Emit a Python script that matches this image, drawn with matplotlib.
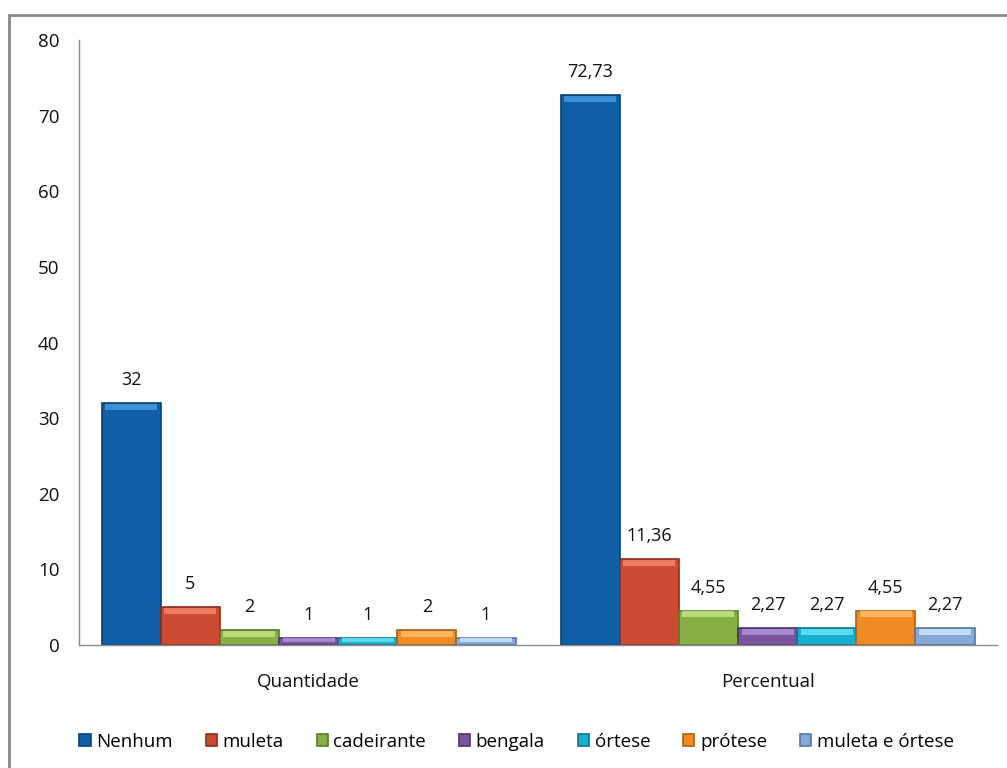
import numpy as np
import matplotlib.pyplot as plt
from matplotlib.patches import Rectangle

plt.rcParams['font.family'] = ['Open Sans', 'DejaVu Sans']

# Data
categories = ['Quantidade', 'Percentual']
series = ['Nenhum', 'muleta', 'cadeirante', 'bengala', 'órtese', 'prótese', 'muleta e órtese']
quantidade = [32, 5, 2, 1, 1, 2, 1]
percentual = [72.73, 11.36, 4.55, 2.27, 2.27, 4.55, 2.27]
colors = ['#0E5FA6', '#CC4B33', '#86B043', '#7A549C', '#16AFCF', '#F28A24', '#86A9D8']
edges = ['#0A3F70', '#8E2E1E', '#5A7A2A', '#4E3468', '#0C7590', '#B05E10', '#5577A3']
highlights = ['#3D8FD6', '#EE7A60', '#B8DA7C', '#A888CC', '#5ED9F0', '#FFB460', '#C0DAF8']


def fmt(v):
    if float(v).is_integer():
        return str(int(v))
    return f"{v:.2f}".replace('.', ',')


fig = plt.figure(figsize=(10.07, 7.68), dpi=100)
ax = fig.add_axes([0.0785, 0.160, 0.9116, 0.788])

values = np.array([quantidade, percentual])  # shape (2, 7)
x = np.arange(len(categories))
n = len(series)
group_w = 0.902
bw = group_w / n

for i, name in enumerate(series):
    xpos = x - group_w / 2 + bw * (i + 0.5)
    vals = values[:, i]
    ax.bar(xpos, vals, width=bw, color=colors[i], edgecolor=edges[i],
           linewidth=1.2, label=name, zorder=2)
    # bevel highlight strip along the top of each bar
    strip = np.minimum(vals * 0.45, 0.8)
    ax.bar(xpos, strip, width=bw * 0.88, bottom=vals - strip - 0.08,
           color=highlights[i], linewidth=0, zorder=3)
    for xp, v in zip(xpos, vals):
        ax.annotate(fmt(v), (xp, v), xytext=(0, 10), textcoords='offset points',
                    ha='center', va='bottom', fontsize=13, color='#111111')

ax.set_xlim(-0.5, 1.5)
ax.set_ylim(0, 80)
ax.set_yticks(np.arange(0, 81, 10))
ax.set_xticks(x)
ax.set_xticklabels(categories)
ax.tick_params(axis='both', length=0, labelsize=13.5, colors='#111111')
ax.tick_params(axis='y', pad=14)
ax.tick_params(axis='x', pad=20)
for s in ['top', 'right']:
    ax.spines[s].set_visible(False)
for s in ['left', 'bottom']:
    ax.spines[s].set_color('#8C8C8C')
    ax.spines[s].set_linewidth(1)

leg = fig.legend(loc='center', bbox_to_anchor=(0.513, 0.034), ncol=n, frameon=False,
                 fontsize=13.5, handlelength=0.6, handleheight=0.6, handletextpad=0.3,
                 columnspacing=1.75)

# outer chart border
fig.patches.append(Rectangle((9 / 1007, -0.05), 1.2, (768 - 15) / 768 + 0.05,
                             transform=fig.transFigure, fill=False,
                             edgecolor='#878787', linewidth=2))

fig.savefig('out.png', dpi=100)
